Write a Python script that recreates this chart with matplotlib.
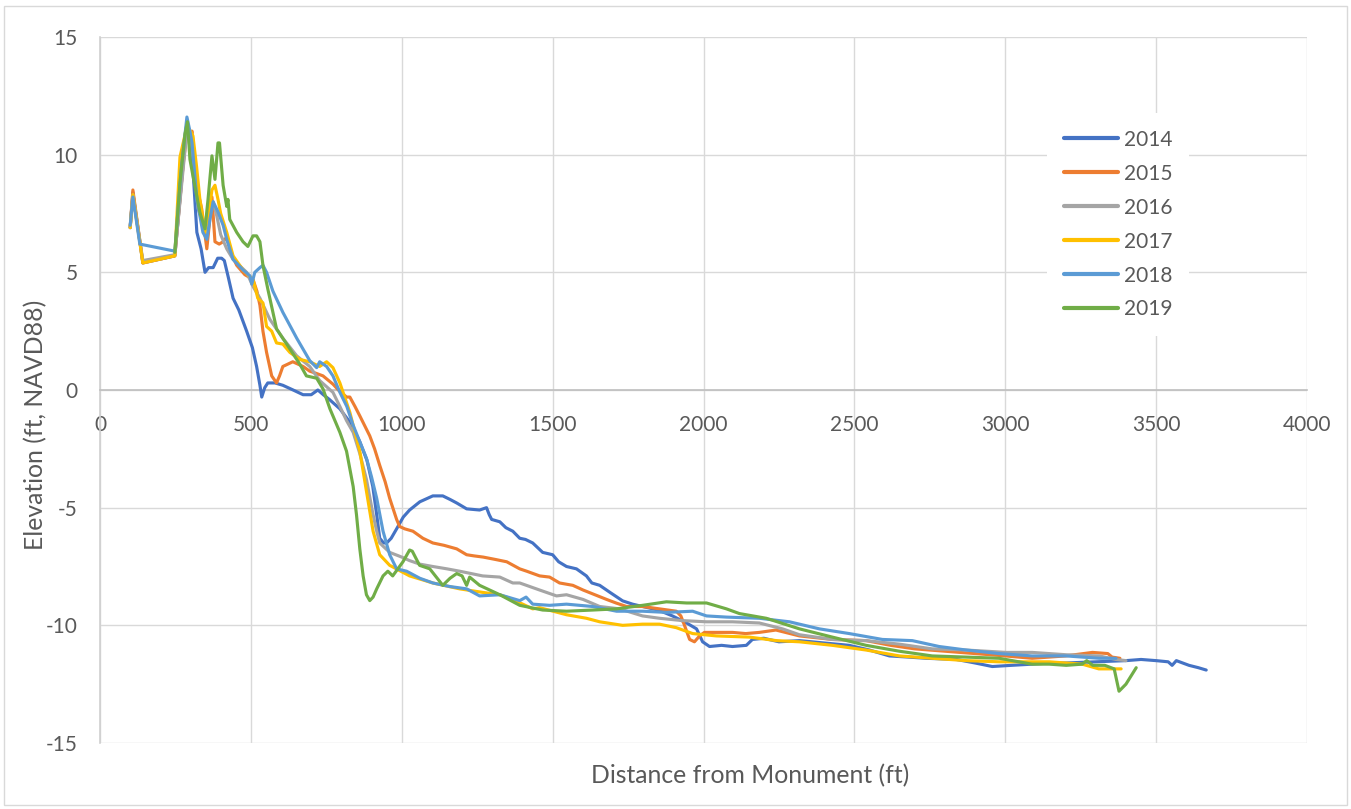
import matplotlib
matplotlib.use("Agg")
import matplotlib.pyplot as plt
from matplotlib.patches import Rectangle

# ---------------- data ----------------
years = ["2014", "2015", "2016", "2017", "2018", "2019"]
colors = ["#4472C4", "#ED7D31", "#A5A5A5", "#FFC000", "#5B9BD5", "#70AD47"]

x2014 = [100, 109, 142, 248, 288, 305, 321, 335, 348, 360, 375, 390, 403, 412, 425, 441, 460, 486, 505, 519,
         530, 536, 546, 556, 580, 606, 640, 673, 700, 722, 740, 760, 795, 830, 861, 885, 904, 918, 927, 940,
         950, 965, 983, 1005, 1026, 1060, 1103, 1136, 1160, 1182, 1215, 1258, 1281, 1290, 1298, 1325, 1345,
         1368, 1391, 1410, 1434, 1467, 1500, 1520, 1546, 1579, 1612, 1630, 1656, 1690, 1732, 1765, 1798, 1850,
         1897, 1944, 1977, 1997, 2020, 2060, 2096, 2142, 2162, 2200, 2250, 2318, 2400, 2483, 2550, 2616, 2680,
         2738, 2838, 2900, 2957, 3020, 3089, 3150, 3202, 3300, 3400, 3450, 3500, 3540, 3553, 3567, 3609, 3640,
         3666]
y2014 = [6.9, 8.4, 5.4, 5.7, 11.4, 10.0, 6.7, 6.0, 5.0, 5.2, 5.2, 5.6, 5.6, 5.5, 4.8, 3.9, 3.4, 2.5, 1.8, 1.0,
         0.2, -0.3, 0.1, 0.3, 0.3, 0.2, 0.0, -0.2, -0.2, 0.0, -0.2, -0.4, -0.8, -1.4, -2.2, -3.0, -4.1, -5.4, -6.3, -6.5,
         -6.5, -6.3, -5.9, -5.4, -5.1, -4.75, -4.5, -4.5, -4.65, -4.8, -5.05, -5.1, -5.0, -5.3, -5.5, -5.6, -5.85,
         -6.0, -6.3, -6.35, -6.5, -6.9, -7.0, -7.3, -7.5, -7.6, -7.9, -8.2, -8.3, -8.6, -8.96, -9.1, -9.2, -9.35,
         -9.6, -9.9, -10.15, -10.7, -10.9, -10.85, -10.9, -10.85, -10.6, -10.55, -10.7, -10.65, -10.75, -10.85, -11.05, -11.3, -11.35,
         -11.4, -11.45, -11.6, -11.75, -11.7, -11.65, -11.6, -11.6, -11.55, -11.5, -11.45, -11.5, -11.55, -11.7, -11.5, -11.7, -11.8,
         -11.9]

x2015 = [100, 109, 142, 248, 275, 290, 298, 305, 315, 325, 337, 354, 362, 371, 381, 395, 408, 420, 435, 453,
         480, 507, 520, 530, 540, 552, 569, 585, 595, 606, 639, 673, 695, 718, 739, 772, 790, 817, 828, 845,
         861, 894, 910, 927, 945, 960, 983, 993, 1010, 1037, 1070, 1103, 1140, 1182, 1215, 1240, 1270, 1310,
         1348, 1391, 1414, 1457, 1490, 1523, 1567, 1601, 1640, 1679, 1710, 1745, 1798, 1854, 1910, 1925, 1937,
         1954, 1970, 1987, 2003, 2050, 2096, 2140, 2185, 2240, 2318, 2427, 2539, 2620, 2700, 2800, 2900, 3000,
         3089, 3200, 3289, 3340, 3354, 3380]
y2015 = [6.9, 8.5, 5.4, 5.7, 9.5, 11.2, 10.8, 11.0, 9.5, 8.4, 7.7, 6.0, 7.0, 8.2, 6.3, 6.2, 6.3, 6.5, 5.8, 5.3,
         4.9, 4.7, 4.2, 3.6, 2.5, 1.6, 0.6, 0.3, 0.6, 1.0, 1.2, 1.0, 0.8, 0.7, 0.6, 0.25, 0.0, -0.3, -0.3, -0.7,
         -1.1, -1.95, -2.5, -3.2, -3.9, -4.6, -5.5, -5.8, -5.9, -6.0, -6.3, -6.5, -6.6, -6.75, -7.0, -7.05, -7.1, -7.2,
         -7.3, -7.6, -7.7, -7.9, -7.95, -8.2, -8.3, -8.5, -8.7, -8.9, -9.05, -9.2, -9.2, -9.3, -9.4, -9.6, -10.0,
         -10.6, -10.7, -10.45, -10.3, -10.3, -10.3, -10.35, -10.3, -10.2, -10.45, -10.6, -10.65, -10.85, -11.0, -11.1, -11.2, -11.3,
         -11.4, -11.3, -11.15, -11.2, -11.35, -11.4]

x2016 = [100, 109, 142, 248, 290, 305, 325, 345, 360, 375, 387, 400, 420, 441, 486, 507, 530, 563, 606, 652,
         695, 728, 772, 795, 817, 839, 861, 883, 905, 917, 927, 960, 1000, 1026, 1060, 1103, 1150, 1192, 1230,
         1268, 1325, 1368, 1391, 1457, 1513, 1546, 1601, 1656, 1722, 1798, 1854, 1931, 2010, 2096, 2185, 2262,
         2318, 2427, 2539, 2649, 2758, 2871, 3003, 3089, 3202, 3311, 3367, 3400]
y2016 = [6.9, 8.3, 5.5, 5.75, 11.3, 10.3, 7.7, 7.0, 7.6, 8.0, 7.4, 6.6, 6.0, 5.55, 5.0, 4.4, 3.9, 3.0, 2.2, 1.45,
         1.0, 0.4, -0.1, -0.7, -1.3, -1.8, -2.7, -3.8, -5.3, -6.0, -6.5, -6.9, -7.1, -7.25, -7.4, -7.5, -7.6, -7.7, -7.8,
         -7.9, -7.95, -8.2, -8.2, -8.5, -8.75, -8.7, -8.9, -9.2, -9.3, -9.6, -9.7, -9.8, -9.85, -9.85, -9.9, -10.15,
         -10.4, -10.6, -10.65, -10.8, -11.0, -11.05, -11.15, -11.15, -11.25, -11.3, -11.45, -11.5]

x2017 = [100, 109, 142, 248, 265, 288, 300, 308, 320, 331, 348, 360, 371, 381, 391, 400, 420, 441, 474, 507,
         523, 540, 552, 569, 585, 606, 629, 662, 695, 728, 751, 772, 795, 828, 861, 883, 905, 927, 960, 1026,
         1103, 1192, 1268, 1325, 1368, 1434, 1457, 1546, 1612, 1656, 1732, 1798, 1854, 1910, 1964, 2043, 2152,
         2242, 2318, 2427, 2539, 2649, 2758, 2871, 2980, 3089, 3146, 3255, 3310, 3384]
y2017 = [6.9, 8.3, 5.4, 5.7, 9.9, 11.2, 11.0, 10.8, 9.5, 8.1, 6.7, 7.5, 8.5, 8.7, 8.1, 7.5, 6.7, 5.7, 5.1, 4.7,
         3.9, 3.7, 2.7, 2.5, 2.0, 1.95, 1.6, 1.3, 1.2, 1.0, 1.2, 0.95, 0.3, -0.95, -2.6, -4.3, -6.0, -7.0, -7.45, -7.9,
         -8.2, -8.45, -8.6, -8.7, -8.9, -9.3, -9.25, -9.55, -9.7, -9.85, -10.0, -9.95, -9.95, -10.1, -10.35, -10.45, -10.5,
         -10.65, -10.7, -10.85, -11.05, -11.3, -11.4, -11.5, -11.55, -11.55, -11.55, -11.65, -11.85, -11.85]

x2018 = [100, 109, 132, 248, 270, 288, 298, 305, 321, 341, 354, 365, 375, 390, 408, 420, 441, 474, 497, 503,
         513, 530, 540, 552, 573, 606, 652, 695, 718, 728, 751, 772, 795, 818, 839, 861, 883, 900, 917, 938,
         960, 983, 1016, 1060, 1103, 1159, 1215, 1258, 1325, 1391, 1412, 1434, 1490, 1546, 1633, 1712, 1798,
         1877, 1964, 2010, 2076, 2185, 2285, 2384, 2483, 2593, 2692, 2781, 2871, 2980, 3089, 3202, 3311, 3367]
y2018 = [7.0, 8.2, 6.2, 5.9, 9.5, 11.6, 11.0, 10.5, 8.1, 6.7, 6.4, 7.3, 8.0, 7.6, 7.0, 6.4, 5.55, 5.1, 4.85, 4.5,
         5.0, 5.2, 5.3, 5.0, 4.2, 3.3, 2.2, 1.25, 0.95, 1.2, 1.0, 0.6, -0.1, -0.7, -1.5, -2.2, -2.9, -3.7, -4.6, -6.0,
         -7.0, -7.6, -7.7, -8.0, -8.2, -8.35, -8.45, -8.75, -8.7, -8.95, -8.8, -9.1, -9.15, -9.1, -9.2, -9.4, -9.4,
         -9.45, -9.4, -9.6, -9.65, -9.7, -9.85, -10.15, -10.35, -10.6, -10.65, -10.9, -11.05, -11.2, -11.3, -11.3, -11.4, -11.4]

x2019 = [248, 265, 282, 290, 298, 308, 331, 348, 358, 371, 381, 391, 396, 408, 420, 424, 430, 453, 474, 490,
         507, 519, 530, 540, 556, 585, 629, 662, 684, 718, 739, 762, 795, 817, 839, 850, 861, 872, 883, 894,
         905, 917, 938, 954, 970, 1004, 1026, 1035, 1059, 1093, 1136, 1160, 1182, 1200, 1215, 1225, 1258, 1325,
         1391, 1467, 1546, 1633, 1712, 1798, 1877, 1944, 2010, 2076, 2119, 2208, 2318, 2427, 2539, 2649, 2758,
         2871, 2980, 3089, 3146, 3202, 3255, 3270, 3290, 3330, 3361, 3377, 3400, 3434]
y2019 = [5.85, 8.8, 10.9, 11.4, 9.8, 9.1, 7.55, 6.85, 8.1, 9.95, 8.95, 10.5, 10.5, 8.7, 7.8, 8.1, 7.25, 6.7, 6.3, 6.1,
         6.55, 6.55, 6.3, 5.3, 4.3, 2.6, 1.75, 1.1, 0.6, 0.5, 0.05, -0.8, -1.8, -2.6, -4.1, -5.3, -6.75, -7.9, -8.7, -8.95,
         -8.8, -8.45, -7.9, -7.7, -7.9, -7.3, -6.8, -6.85, -7.45, -7.6, -8.3, -8.0, -7.8, -7.9, -8.3, -7.95, -8.3, -8.7,
         -9.15, -9.35, -9.4, -9.35, -9.3, -9.15, -9.0, -9.05, -9.05, -9.3, -9.5, -9.7, -10.15, -10.5, -10.85, -11.1, -11.3,
         -11.35, -11.4, -11.65, -11.65, -11.7, -11.65, -11.5, -11.7, -11.7, -11.85, -12.8, -12.5, -11.8]

series_x = [x2014, x2015, x2016, x2017, x2018, x2019]
series_y = [y2014, y2015, y2016, y2017, y2018, y2019]

x_ticks = [0, 500, 1000, 1500, 2000, 2500, 3000, 3500, 4000]
y_ticks = [-15, -10, -5, 0, 5, 10, 15]
x_title = "Distance from Monument (ft)"
y_title = "Elevation (ft, NAVD88)"

# ---------------- figure ----------------
W, H = 1351, 809
plt.rcParams['font.family'] = ['Lato', 'DejaVu Sans']
plt.rcParams['axes.unicode_minus'] = False
fig = plt.figure(figsize=(W / 100, H / 100), dpi=100)
ax = fig.add_axes([100 / W, (H - 743) / H, 1207 / W, 706 / H])

for xs, ys, c, lab in zip(series_x, series_y, colors, years):
    ax.plot(xs, ys, color=c, lw=2.25, label=lab, solid_joinstyle='round', solid_capstyle='round', zorder=3)

ax.set_xlim(0, 4000)
ax.set_ylim(-15, 15)
ax.set_xticks(x_ticks)
ax.set_yticks(y_ticks)
ax.grid(True, color='#D9D9D9', lw=1.0, zorder=0)
ax.set_axisbelow(True)

for s in ['top', 'right']:
    ax.spines[s].set_visible(False)
ax.spines['bottom'].set_position(('data', 0))
ax.spines['bottom'].set_color('#BFBFBF')
ax.spines['bottom'].set_linewidth(1.2)
ax.spines['left'].set_color('#D0D0D0')
ax.spines['left'].set_linewidth(1.2)

ax.tick_params(axis='both', length=0, labelsize=15, labelcolor='#595959')
ax.tick_params(axis='x', pad=18)
ax.tick_params(axis='y', pad=16)

fig.text(750 / W, 1 - 776 / H, x_title, ha='center', va='center', fontsize=17.8, color='#595959')
fig.text(36 / W, 1 - 425 / H, y_title, ha='center', va='center', rotation=90, fontsize=17.8, color='#595959')

leg = ax.legend(loc='upper left', bbox_to_anchor=(1047 / W, 1 - 113 / H), bbox_transform=fig.transFigure,
                frameon=True, fontsize=15, handlelength=2.6, handletextpad=0.3, labelspacing=0.67,
                borderpad=0.8, borderaxespad=0)
leg.get_frame().set_facecolor('white')
leg.get_frame().set_edgecolor('none')
leg.get_frame().set_alpha(1)
for t in leg.get_texts():
    t.set_color('#595959')
for l in leg.get_lines():
    l.set_linewidth(3.0)

# outer chart border
fig.patches.append(Rectangle((4 / W, 4 / H), 1 - 8 / W, 1 - 10 / H, transform=fig.transFigure,
                             fill=False, edgecolor='#D9D9D9', lw=1.0))

fig.savefig("out.png", dpi=100)
